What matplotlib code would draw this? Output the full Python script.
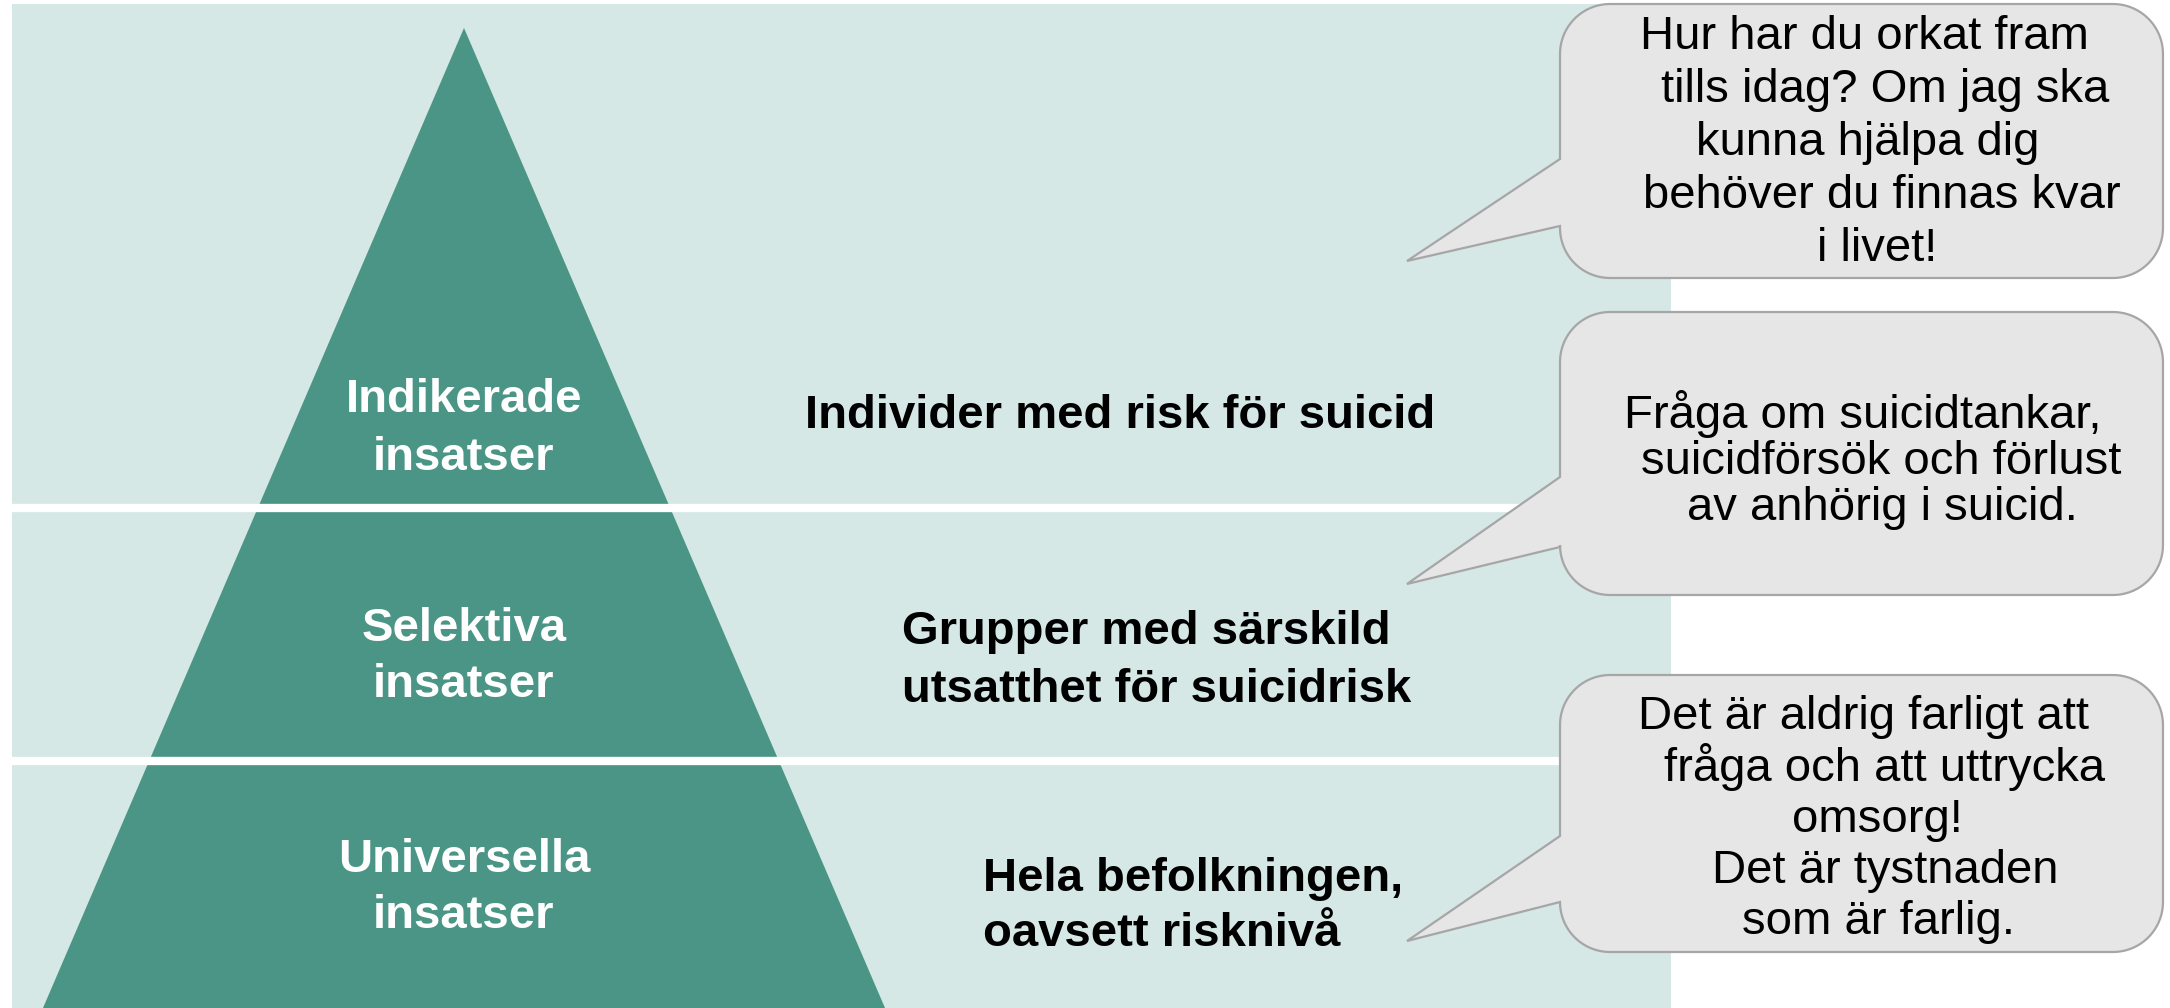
import numpy as np
import matplotlib.pyplot as plt
from matplotlib.patches import Polygon, Rectangle

# Data
tier_labels = [["Indikerade", "insatser"],
               ["Selektiva", "insatser"],
               ["Universella", "insatser"]]
tier_descr = [["Individer med risk för suicid"],
              ["Grupper med särskild", "utsatthet för suicidrisk"],
              ["Hela befolkningen,", "oavsett risknivå"]]
bubble_texts = [["Hur har du orkat fram", "tills idag? Om jag ska", "kunna hjälpa dig",
                 "behöver du finnas kvar", "i livet!"],
                ["Fråga om suicidtankar,", "suicidförsök och förlust", "av anhörig i suicid."],
                ["Det är aldrig farligt att", "fråga och att uttrycka", "omsorg!",
                 "Det är tystnaden", "som är farlig."]]

# Layout (pixels, y down)
W, H = 2170, 1008
bg_x0, bg_x1, bg_y0 = 12, 1671, 4
apex = (464, 28)
slope = 0.4296
gaps = [508, 761]
label_base = [[412, 470], [641, 697], [872, 928]]
descr_x = [805, 902, 983]
descr_base = [[428], [644, 702], [891, 946]]
bub_x0, bub_x1, tip_x = 1560, 2163, 1407
bub_box = [(4, 278), (312, 595), (675, 952)]
tail_y = [(159, 226, 261), (477, 547, 584), (836, 902, 941)]
bub_cx = [[1864, 1885, 1868, 1882, 1877], [1863, 1881, 1882], [1864, 1885, 1877, 1885, 1879]]
bub_base = [[49, 102, 155, 208, 261], [428, 474, 520], [729, 781, 832, 883, 934]]

bg_col = '#D5E8E5'
tri_col = '#4A9585'
bub_fill = '#E6E6E6'
bub_edge = '#A6A6A6'

plt.rcParams['font.family'] = ['Liberation Sans', 'DejaVu Sans']

fig = plt.figure(figsize=(W / 100, H / 100), dpi=100)
ax = fig.add_axes([0, 0, 1, 1])
ax.set_xlim(0, W)
ax.set_ylim(H, 0)
ax.axis('off')

# background panel
ax.add_patch(Rectangle((bg_x0, bg_y0), bg_x1 - bg_x0, H - bg_y0, color=bg_col, lw=0, zorder=1))

# pyramid
half = slope * (H - apex[1])
ax.add_patch(Polygon([apex, (apex[0] - half, H), (apex[0] + half, H)], closed=True,
                     color=tri_col, lw=0, zorder=1))

# white gaps between tiers
for g in gaps:
    ax.plot([bg_x0, bg_x1], [g, g], color='white', lw=6, solid_capstyle='butt', zorder=2)

for lines, bases in zip(tier_labels, label_base):
    for t, y in zip(lines, bases):
        ax.text(apex[0], y, t, color='white', fontsize=34, fontweight='bold',
                ha='center', va='baseline', zorder=3)

for lines, x, bases in zip(tier_descr, descr_x, descr_base):
    for t, y in zip(lines, bases):
        ax.text(x, y, t, color='black', fontsize=34, fontweight='bold',
                ha='left', va='baseline', zorder=3)


def bubble(y0, y1, b1, b2, ty, r=50, n=20):
    t = np.linspace(0, np.pi / 2, n)
    pts = [(bub_x0, y0 + r), (bub_x0, b1), (tip_x, ty), (bub_x0, b2), (bub_x0, y1 - r)]
    cx, cy = bub_x0 + r, y1 - r
    pts += list(zip(cx - r * np.cos(t), cy + r * np.sin(t)))
    cx, cy = bub_x1 - r, y1 - r
    pts += list(zip(cx + r * np.sin(t), cy + r * np.cos(t)))
    cx, cy = bub_x1 - r, y0 + r
    pts += list(zip(cx + r * np.cos(t), cy - r * np.sin(t)))
    cx, cy = bub_x0 + r, y0 + r
    pts += list(zip(cx - r * np.sin(t), cy - r * np.cos(t)))
    ax.add_patch(Polygon(pts, closed=True, facecolor=bub_fill, edgecolor=bub_edge,
                         lw=1.6, joinstyle='miter', zorder=4))


for (y0, y1), (b1, b2, ty), lines, xs, bases in zip(bub_box, tail_y, bubble_texts, bub_cx, bub_base):
    bubble(y0, y1, b1, b2, ty)
    for t, x, y in zip(lines, xs, bases):
        ax.text(x, y, t, color='black', fontsize=34, ha='center', va='baseline', zorder=5)

fig.savefig('out.png', dpi=100, facecolor='white')
